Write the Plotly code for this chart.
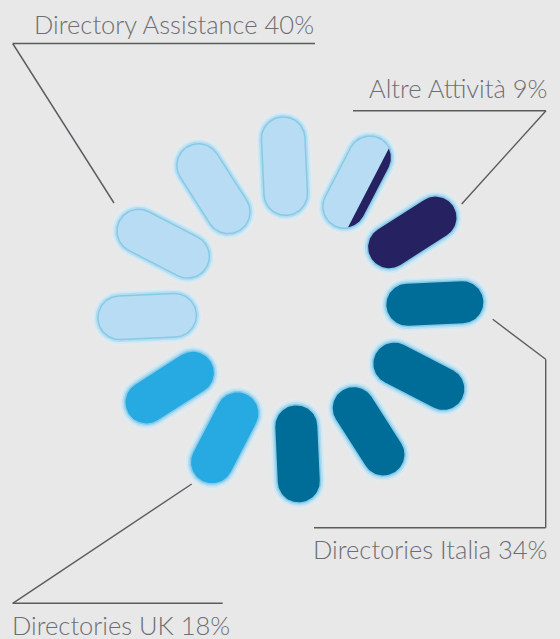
import numpy as np
import plotly.graph_objects as go

# ---- data ----
labels = ["Directory Assistance", "Altre Attività", "Directories Italia", "Directories UK"]
values = [40, 9, 34, 18]                       # percentages shown in the labels
pills_per_segment = [4.8, 1.2, 4.0, 2.0]       # pill coverage as drawn (of 12 pills)
colors = ["#b8dcf3", "#262262", "#006c98", "#27a9e1"]
n_pills = 12
start_pill = 9                                 # first pill (at 9 o'clock), clockwise

# ---- layout constants ----
W, H = 560, 639
CX, CY = 291, 310
R = 144          # radius to pill centre
HALF = 27.5      # half length of straight part
RAD = 21         # cap radius
OFFSET = -2.6    # degrees
BG = "#e8e8e9"
TXT = "#6d6e71"
LINE = "#5a5b5d"

def stadium(theta_deg, v_lo, v_hi, rad=RAD, half=HALF, n=40):
    th = np.radians(theta_deg)
    a = np.array([np.sin(th), -np.cos(th)])
    p = np.array([np.cos(th), np.sin(th)])
    phi = np.linspace(np.arcsin(np.clip(v_lo / rad, -1, 1)), np.arcsin(np.clip(v_hi / rad, -1, 1)), n)
    v1 = rad * np.sin(phi); u1 = half + rad * np.cos(phi)
    v2 = v1[::-1]; u2 = -(half + rad * np.cos(phi[::-1]))
    v = np.concatenate([v1, v2, v1[:1]]); u = np.concatenate([u1, u2, u1[:1]])
    x = CX + (R + u) * a[0] + v * p[0]
    y = CY + (R + u) * a[1] + v * p[1]
    return x, y

fig = go.Figure()
bounds = np.concatenate([[0], np.cumsum(pills_per_segment)])

glow = [(7, "rgba(220,240,250,0.35)"), (5, "rgba(190,228,246,0.45)"),
        (3.2, "rgba(150,210,238,0.5)"), (1.5, "rgba(105,190,225,0.6)")]

for k in range(n_pills):
    idx = (start_pill + k) % n_pills
    theta = OFFSET + idx * 360 / n_pills
    for e, gc in glow:
        gx, gy = stadium(theta, -(RAD + e), RAD + e, rad=RAD + e)
        fig.add_trace(go.Scatter(x=gx, y=gy, fill="toself", fillcolor=gc, mode="lines",
                                 line=dict(width=0), hoverinfo="skip", showlegend=False))
    for s in range(len(labels)):
        lo, hi = max(k, bounds[s]), min(k + 1, bounds[s + 1])
        if hi - lo <= 1e-9:
            continue
        v_lo = -RAD + (lo - k) * 2 * RAD
        v_hi = -RAD + (hi - k) * 2 * RAD
        px, py = stadium(theta, v_lo, v_hi)
        fig.add_trace(go.Scatter(x=px, y=py, fill="toself", fillcolor=colors[s], mode="lines",
                                 line=dict(width=0), hoverinfo="skip", showlegend=False,
                                 name=labels[s]))

# ---- labels and leader lines ----
label_pos = [  # x, baseline y, xanchor
    (316, 32.7, "right"),
    (549, 96.7, "right"),
    (311, 558, "left"),
    (9.5, 634, "left"),
]
leaders = [
    [(315, 43.5), (12.7, 43.5), (114, 203)],
    [(353, 110.7), (546, 110.7), (461.7, 204)],
    [(314, 527.7), (545.7, 527.7), (545.7, 359.3), (492.7, 319.3)],
    [(222.7, 603.3), (12.7, 603.3), (191.7, 484)],
]
FS = 25.5
for (lx, ly, xa), lab, val in zip(label_pos, labels, values):
    fig.add_annotation(x=lx, y=ly - 0.36 * FS, xref="x", yref="y", text=f"{lab} {val}%",
                       showarrow=False, xanchor=xa, yanchor="middle",
                       font=dict(family="Lato", size=FS, color=TXT, weight=300))
for pts in leaders:
    for (x0, y0), (x1, y1) in zip(pts[:-1], pts[1:]):
        fig.add_shape(type="line", x0=x0, y0=y0, x1=x1, y1=y1, xref="x", yref="y",
                      line=dict(color=LINE, width=1.4))

fig.update_layout(width=W, height=H, margin=dict(l=0, r=0, t=0, b=0),
                  paper_bgcolor=BG, plot_bgcolor=BG,
                  xaxis=dict(range=[0, W], visible=False, fixedrange=True),
                  yaxis=dict(range=[H, 0], visible=False, fixedrange=True))
fig.write_html("out.html", config={"displayModeBar": False},
               post_script="document.body.style.margin='0';document.body.style.overflow='hidden';")
